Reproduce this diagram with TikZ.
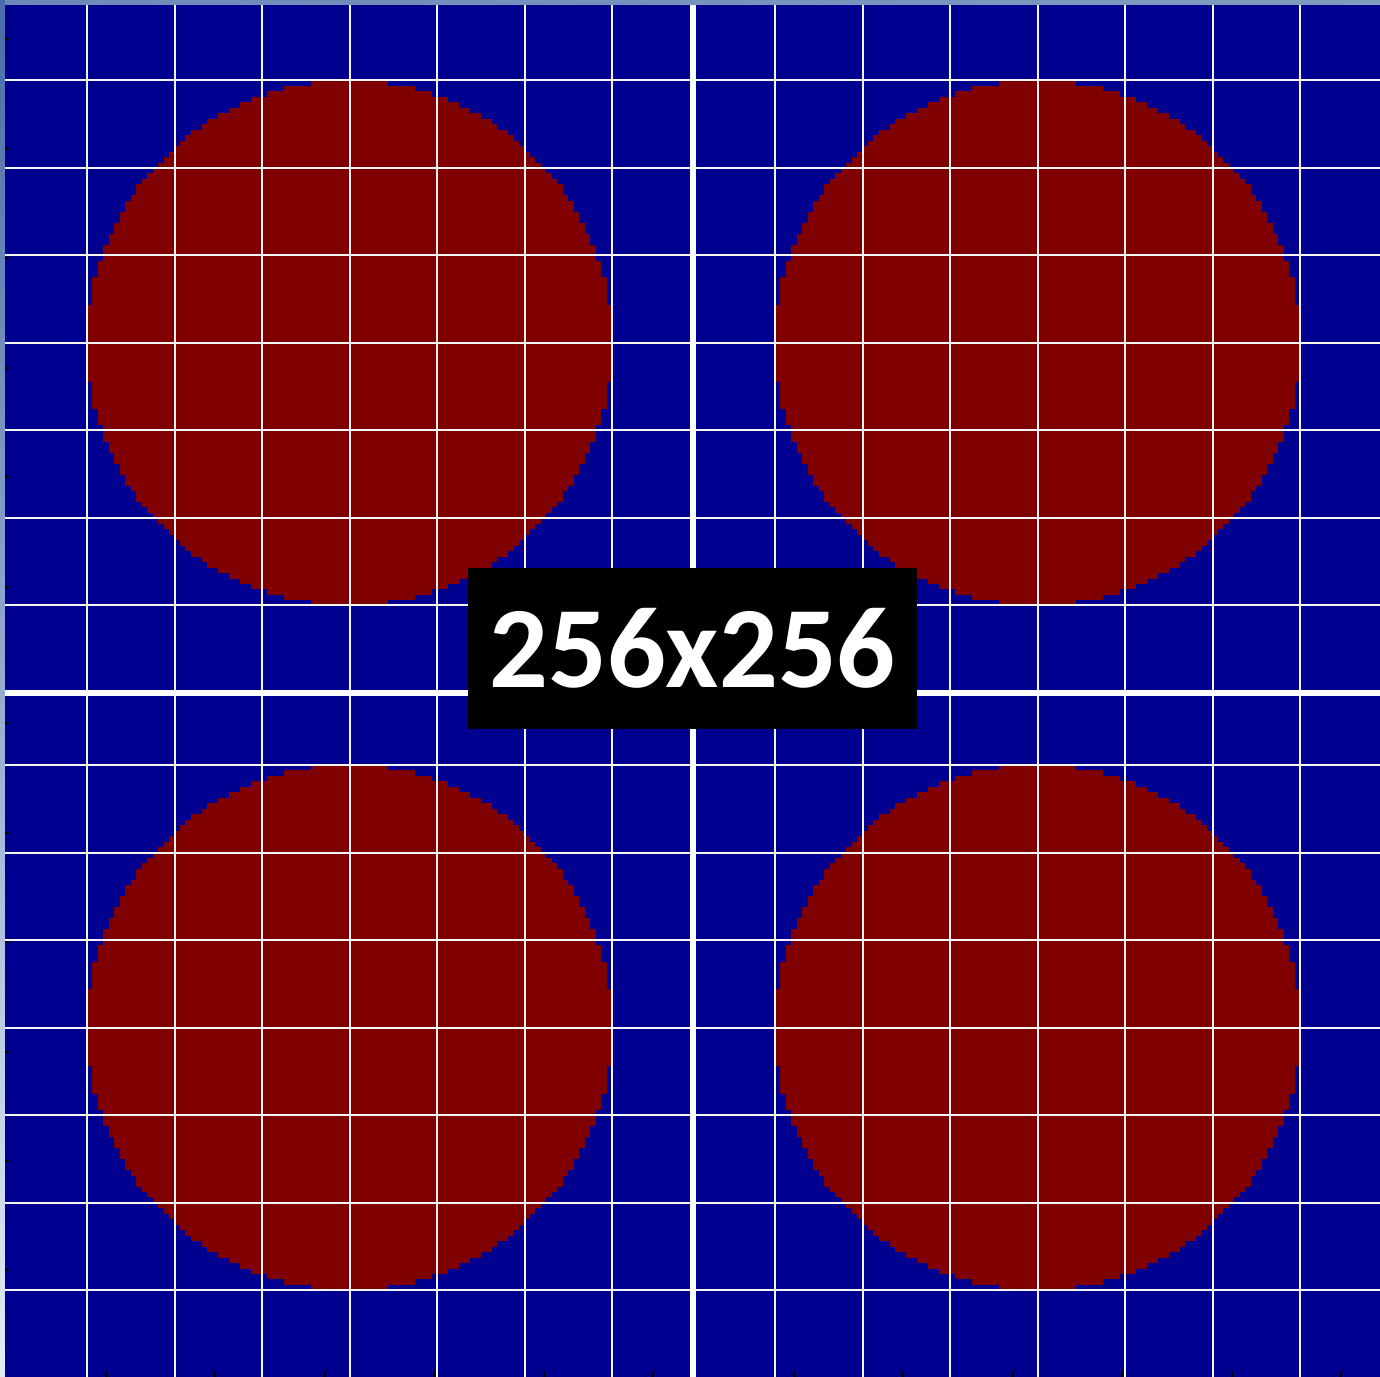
\documentclass[tikz,border=0pt]{standalone}
\usepackage{fontspec}
\usepackage{tikz}
\usetikzlibrary{positioning,calc}
\newfontfamily\labelfont{Carlito}
\definecolor{panelblue}{RGB}{0,0,144}
\definecolor{discred}{RGB}{128,0,0}
\definecolor{frameblue}{RGB}{72,108,168}
\definecolor{framepale}{RGB}{226,236,249}
\definecolor{frametop}{RGB}{128,156,192}
\newcommand{\pxs}{5.46875}
% one pixelated disc of radius 48 px, centre (#1,#2)
\newcommand{\pixdisc}[2]{%
  \foreach \j in {-48,...,47}{%
    \pgfmathsetmacro{\w}{round(sqrt(2304-(\j+0.5)^2))}%
    \fill[disc] ({#1-\w*\pxs},{#2+\j*\pxs}) rectangle ({#1+\w*\pxs},{#2+(\j+1)*\pxs+0.4});
  }}

\begin{document}
\begin{tikzpicture}[
  x=0.01cm,y=-0.01cm,
  disc/.style={fill=discred},
  gridline/.style={white!92!gray,line width=0.02cm},
  splitline/.style={white,line width=0.065cm},
  tick/.style={black,line width=0.02cm},
  sizebox/.style={fill=black,text=white,minimum width=4.49cm,minimum height=1.61cm,
                  inner sep=0pt,font=\labelfont\bfseries\fontsize{33}{33}\selectfont},
]
\useasboundingbox (0,0) rectangle (1380,1377);
% ----- frame and panel
\shade[top color=frameblue,bottom color=framepale] (0,0) rectangle (5,1377);
\shade[left color=frameblue!80!white,right color=frametop] (5,0) rectangle (1380,5);
\fill[panelblue] (5,5) rectangle (1380,1377);
% ----- discs
\pixdisc{349.5}{343}
\pixdisc{1037.5}{343}
\pixdisc{349.5}{1027.5}
\pixdisc{1037.5}{1027.5}
% ----- grid
\foreach \x in {87,174.5,262,349.5,437,524.5,612,775,862.5,950,1037.5,1125,1212.5,1300}
  \draw[gridline] (\x,5) -- (\x,1377);
\foreach \y in {80.5,168,255.5,343,430.5,518,605.5,765,852.5,940,1027.5,1115,1202.5,1290}
  \draw[gridline] (5,\y) -- (1380,\y);
\draw[splitline] (693,5) -- (693,1377);
\draw[splitline] (5,693) -- (1380,693);
% ----- axis ticks
\foreach \x in {106,215,325,434,544,653,794,903,1013,1122,1232,1341}
  \draw[tick] (\x,1371) -- (\x,1377);
\foreach \y in {39,149,258,368,477,587,723,833,942,1052,1161,1270}
  \draw[tick] (5,\y) -- (9,\y);
% ----- size label
\node[sizebox] (size) at (692.5,648.5) {256x256};
\end{tikzpicture}
\end{document}
